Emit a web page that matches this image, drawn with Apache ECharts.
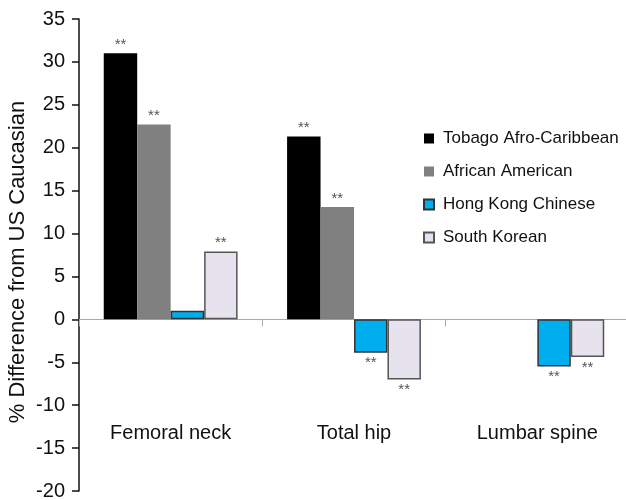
<!DOCTYPE html>
<html>
<head>
<meta charset="utf-8">
<script src="https://cdn.jsdelivr.net/npm/echarts@6/dist/echarts.min.js"></script>
<style>
html,body{margin:0;padding:0;background:#fff;}
#chart{width:626px;height:500px;}
</style>
</head>
<body>
<div id="chart"></div>
<script>
var categories = ['Femoral neck', 'Total hip', 'Lumbar spine'];
var seriesNames = ['Tobago Afro-Caribbean', 'African American', 'Hong Kong Chinese', 'South Korean'];
var tobago = [31.0, 21.3, null];
var africanAmerican = [22.7, 13.1, null];
var hongKong = [1.0, -3.9, -5.5];
var southKorean = [7.9, -7.0, -4.4];
var tobagoSig = [true, true, false];
var africanAmericanSig = [true, true, false];
var hongKongSig = [false, true, true];
var southKoreanSig = [true, true, true];
var yTicks = [-20, -15, -10, -5, 0, 5, 10, 15, 20, 25, 30, 35];

var FONT = '"Liberation Sans", Arial, Helvetica, sans-serif';

function buildData(values, sig) {
  return values.map(function (v, i) {
    if (v === null) return null;
    return {
      value: v,
      label: {
        show: sig[i],
        position: v < 0 ? 'bottom' : 'top',
        distance: v < 0 ? 3 : 1
      }
    };
  });
}

function makeSeries(name, values, sig, color, borderColor, borderWidth) {
  return {
    name: name,
    type: 'bar',
    xAxisIndex: 0,
    barGap: '0%',
    barCategoryGap: '27%',
    data: buildData(values, sig),
    itemStyle: { color: color, borderColor: borderColor, borderWidth: borderWidth },
    label: {
      formatter: '**',
      color: '#555',
      fontSize: 15,
      fontFamily: FONT
    }
  };
}

var chart = echarts.init(document.getElementById('chart'), null, { renderer: 'canvas' });
chart.setOption({
  animation: false,
  backgroundColor: '#fff',
  textStyle: { fontFamily: FONT },
  grid: { left: 79, top: 19, width: 550, bottom: 9, containLabel: false, outerBoundsMode: 'none' },
  legend: {
    orient: 'vertical',
    left: 418,
    top: 125,
    itemWidth: 10,
    itemHeight: 10,
    itemGap: 16,
    icon: 'rect',
    textStyle: { fontSize: 17, color: '#111', fontFamily: FONT, padding: [0, 0, 0, 4] },
    data: seriesNames
  },
  xAxis: [
    {
      type: 'category',
      data: categories,
      position: 'bottom',
      axisLine: { show: false, onZero: false },
      axisTick: { show: false },
      axisLabel: { show: true, margin: -68, fontSize: 20, color: '#111', fontFamily: FONT },
      splitLine: { show: false }
    },
    {
      type: 'category',
      data: categories,
      position: 'bottom',
      axisLine: { show: true, onZero: true, lineStyle: { color: '#aaa', width: 1 } },
      axisTick: { show: true, length: 7, lineStyle: { color: '#aaa' } },
      axisLabel: { show: false },
      splitLine: { show: false }
    }
  ],
  yAxis: {
    type: 'value',
    min: yTicks[0],
    max: yTicks[yTicks.length - 1],
    interval: 5,
    name: '% Difference from US Caucasian',
    nameLocation: 'middle',
    nameGap: 50,
    nameMoveOverlap: false,
    nameTextStyle: { fontSize: 22, color: '#111', fontFamily: FONT, padding: [0, 14, 0, 0] },
    axisLine: { show: true, lineStyle: { color: '#111', width: 1.5 } },
    axisTick: { show: true, length: 7, lineStyle: { color: '#111', width: 1.5 } },
    axisLabel: { fontSize: 20, color: '#111', margin: 14, fontFamily: FONT },
    splitLine: { show: false }
  },
  series: [
    makeSeries(seriesNames[0], tobago, tobagoSig, '#000000', '#000000', 0),
    makeSeries(seriesNames[1], africanAmerican, africanAmericanSig, '#808080', '#808080', 0),
    makeSeries(seriesNames[2], hongKong, hongKongSig, '#00AEEF', '#333333', 1.5),
    makeSeries(seriesNames[3], southKorean, southKoreanSig, '#E6E2EE', '#555555', 1.5)
  ]
});
</script>
</body>
</html>
